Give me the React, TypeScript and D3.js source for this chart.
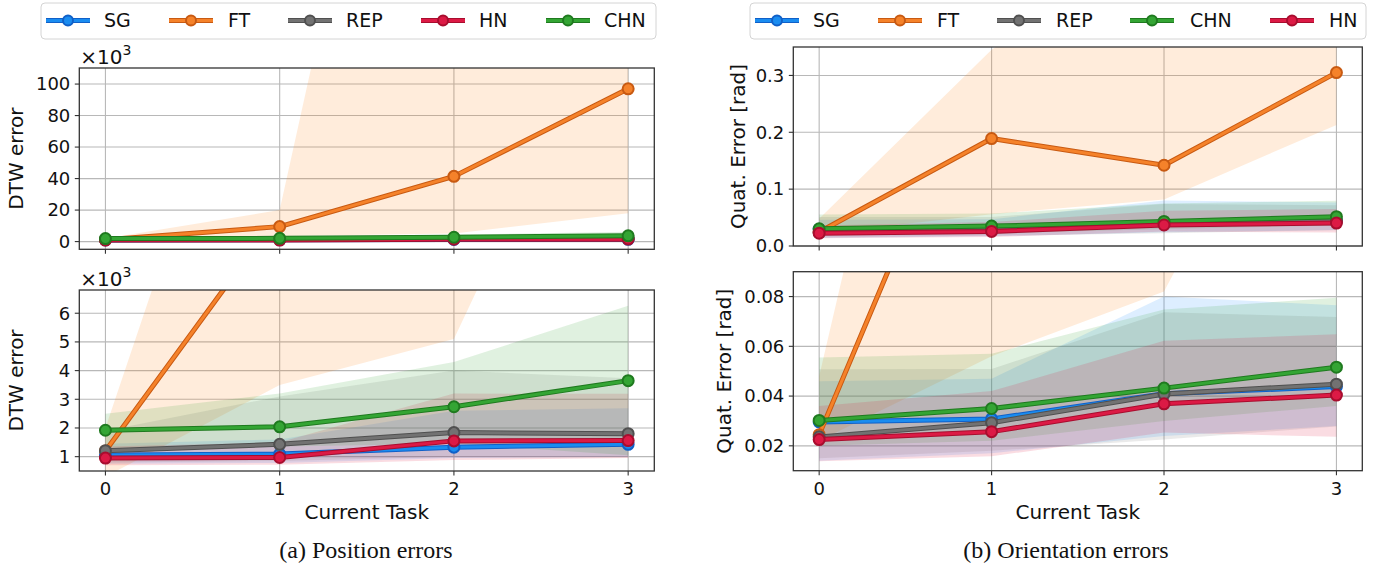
import React from "react";
import * as d3 from "d3";

// ---------- data ----------
const tasks = [0, 1, 2, 3];

const posNames = ["SG", "FT", "REP", "HN", "CHN"];
const oriNames = ["SG", "FT", "REP", "CHN", "HN"];

// position DTW error (x10^3)
const posSG = [1.06, 1.09, 1.33, 1.43];
const posFT = [1.2, 9.5, 41.4, 97.0];
const posREP = [1.21, 1.43, 1.84, 1.8];
const posHN = [0.95, 0.97, 1.55, 1.56];
const posCHN = [1.92, 2.04, 2.74, 3.65];

const posSGHi = [1.45, 1.6, 2.6, 2.69];
const posSGLo = [0.75, 0.78, 0.95, 1.0];
const posFTHi = [2.0, 20, 520, 250];
const posFTLo = [0.3, 3.5, 5.1, 18];
const posREPHi = [1.9, 3.1, 4.0, 3.73];
const posREPLo = [0.8, 0.85, 1.0, 1.0];
const posHNHi = [1.35, 1.5, 3.2, 3.19];
const posHNLo = [0.7, 0.72, 0.88, 0.95];
const posCHNHi = [2.5, 3.2, 4.3, 6.26];
const posCHNLo = [1.3, 1.35, 1.45, 1.05];

// orientation quaternion error [rad]
const oriSG = [0.0296, 0.0308, 0.0409, 0.0438];
const oriFT = [0.0245, 0.189, 0.142, 0.305];
const oriREP = [0.0236, 0.0293, 0.0408, 0.0448];
const oriCHN = [0.0302, 0.035, 0.0432, 0.0516];
const oriHN = [0.0225, 0.0257, 0.0369, 0.0404];

const oriSGHi = [0.046, 0.047, 0.08, 0.0765];
const oriSGLo = [0.014, 0.017, 0.024, 0.028];
const oriFTHi = [0.048, 0.345, 0.55, 0.5];
const oriFTLo = [0.022, 0.056, 0.082, 0.213];
const oriREPHi = [0.0508, 0.0509, 0.0737, 0.0718];
const oriREPLo = [0.015, 0.018, 0.0225, 0.0278];
const oriCHNHi = [0.0555, 0.057, 0.0748, 0.0795];
const oriCHNLo = [0.02, 0.022, 0.03, 0.036];
const oriHNHi = [0.036, 0.042, 0.0622, 0.0649];
const oriHNLo = [0.0138, 0.0158, 0.0254, 0.0236];

const posTopTicks = [0, 20, 40, 60, 80, 100];
const posBotTicks = [1, 2, 3, 4, 5, 6];
const oriTopTicks = [0.0, 0.1, 0.2, 0.3];
const oriBotTicks = [0.02, 0.04, 0.06, 0.08];

// ---------- style ----------
const COLORS: Record<string, { main: string; edge: string; band: string }> = {
  SG: { main: "#1a8cf0", edge: "#1060c8", band: "#1e90ff" },
  FT: { main: "#f5822a", edge: "#c85a12", band: "#ff7f0e" },
  REP: { main: "#727272", edge: "#505050", band: "#707070" },
  HN: { main: "#dc1a45", edge: "#a80d2e", band: "#dc143c" },
  CHN: { main: "#34a534", edge: "#1f7a1f", band: "#2ca02c" },
};

const posData: Record<string, { m: number[]; hi: number[]; lo: number[] }> = {
  SG: { m: posSG, hi: posSGHi, lo: posSGLo },
  FT: { m: posFT, hi: posFTHi, lo: posFTLo },
  REP: { m: posREP, hi: posREPHi, lo: posREPLo },
  HN: { m: posHN, hi: posHNHi, lo: posHNLo },
  CHN: { m: posCHN, hi: posCHNHi, lo: posCHNLo },
};
const oriData: Record<string, { m: number[]; hi: number[]; lo: number[] }> = {
  SG: { m: oriSG, hi: oriSGHi, lo: oriSGLo },
  FT: { m: oriFT, hi: oriFTHi, lo: oriFTLo },
  REP: { m: oriREP, hi: oriREPHi, lo: oriREPLo },
  CHN: { m: oriCHN, hi: oriCHNHi, lo: oriCHNLo },
  HN: { m: oriHN, hi: oriHNHi, lo: oriHNLo },
};

const SANS = "'DejaVu Sans', sans-serif";
const SERIF = "'Liberation Serif', 'DejaVu Serif', serif";

type PanelCfg = {
  id: string;
  left: number;
  right: number;
  top: number;
  bottom: number;
  domain: [number, number];
  ticks: number[];
  fmt: (v: number) => string;
  names: string[];
  data: typeof posData;
  showXLabels: boolean;
  ylabel: string;
  ylabelX: number;
  offsetText: boolean;
};

const panels: PanelCfg[] = [
  {
    id: "pt", left: 79.3, right: 654.3, top: 68, bottom: 249.3,
    domain: [-4.9, 110.2], ticks: posTopTicks, fmt: d3.format("d"),
    names: posNames, data: posData, showXLabels: false,
    ylabel: "DTW error", ylabelX: 23, offsetText: true,
  },
  {
    id: "pb", left: 79.3, right: 654.3, top: 290, bottom: 471,
    domain: [0.5, 6.81], ticks: posBotTicks, fmt: d3.format("d"),
    names: posNames, data: posData, showXLabels: true,
    ylabel: "DTW error", ylabelX: 23, offsetText: true,
  },
  {
    id: "ot", left: 793.3, right: 1362.3, top: 47, bottom: 246,
    domain: [0, 0.35], ticks: oriTopTicks, fmt: d3.format(".1f"),
    names: oriNames, data: oriData, showXLabels: false,
    ylabel: "Quat. Error [rad]", ylabelX: 745, offsetText: false,
  },
  {
    id: "ob", left: 793.3, right: 1362.3, top: 271.7, bottom: 470.7,
    domain: [0.01, 0.09], ticks: oriBotTicks, fmt: d3.format(".2f"),
    names: oriNames, data: oriData, showXLabels: true,
    ylabel: "Quat. Error [rad]", ylabelX: 731, offsetText: false,
  },
];

function Panel({ p }: { p: PanelCfg }) {
  const x = d3.scaleLinear().domain([-0.15, 3.15]).range([p.left, p.right]);
  const y = d3.scaleLinear().domain(p.domain).range([p.bottom, p.top]);
  const line = d3
    .line<number>()
    .x((_, i) => x(tasks[i]))
    .y((d) => y(d));
  const area = (hi: number[], lo: number[]) =>
    d3
      .area<number>()
      .x((_, i) => x(tasks[i]))
      .y0((_, i) => y(lo[i]))
      .y1((_, i) => y(hi[i]))(tasks) || "";
  const clipId = "clip-" + p.id;
  const midY = (p.top + p.bottom) / 2;
  const gridColor = "#b8b8b8";
  return (
    <g>
      <defs>
        <clipPath id={clipId}>
          <rect x={p.left} y={p.top} width={p.right - p.left} height={p.bottom - p.top} />
        </clipPath>
      </defs>
      {tasks.map((t) => (
        <line key={"gx" + t} x1={x(t)} x2={x(t)} y1={p.top} y2={p.bottom} stroke={gridColor} strokeWidth={1.1} />
      ))}
      {p.ticks.map((t) => (
        <line key={"gy" + t} x1={p.left} x2={p.right} y1={y(t)} y2={y(t)} stroke={gridColor} strokeWidth={1.1} />
      ))}
      <g clipPath={`url(#${clipId})`}>
        {p.names.map((n) => (
          <path key={"b" + n} d={area(p.data[n].hi, p.data[n].lo)} fill={COLORS[n].band} fillOpacity={0.15} stroke="none" />
        ))}
        {p.names.map((n) => (
          <g key={"l" + n}>
            <path d={line(p.data[n].m) || ""} fill="none" stroke={COLORS[n].edge} strokeWidth={5} strokeLinejoin="round" />
            <path d={line(p.data[n].m) || ""} fill="none" stroke={COLORS[n].main} strokeWidth={3} strokeLinejoin="round" />
            {p.data[n].m.map((v, i) => (
              <circle key={i} cx={x(tasks[i])} cy={y(v)} r={5.5} fill={COLORS[n].main} stroke={COLORS[n].edge} strokeWidth={2} />
            ))}
          </g>
        ))}
      </g>
      <rect x={p.left} y={p.top} width={p.right - p.left} height={p.bottom - p.top} fill="none" stroke="#333" strokeWidth={1.3} />
      {p.ticks.map((t) => (
        <g key={"yt" + t}>
          <line x1={p.left - 4.5} x2={p.left} y1={y(t)} y2={y(t)} stroke="#333" strokeWidth={1.1} />
          <text x={p.left - 9} y={y(t)} dy="0.35em" textAnchor="end" fontFamily={SANS} fontSize={18} fill="#111">
            {p.fmt(t)}
          </text>
        </g>
      ))}
      {tasks.map((t) => (
        <g key={"xt" + t}>
          <line x1={x(t)} x2={x(t)} y1={p.bottom} y2={p.bottom + 4.5} stroke="#333" strokeWidth={1.1} />
          {p.showXLabels && (
            <text x={x(t)} y={p.bottom + 24} textAnchor="middle" fontFamily={SANS} fontSize={18} fill="#111">
              {t}
            </text>
          )}
        </g>
      ))}
      {p.showXLabels && (
        <text x={(p.left + p.right) / 2} y={p.bottom + 48} textAnchor="middle" fontFamily={SANS} fontSize={20} fill="#111">
          Current Task
        </text>
      )}
      <text
        transform={`translate(${p.ylabelX},${midY}) rotate(-90)`}
        textAnchor="middle"
        fontFamily={SANS}
        fontSize={20}
        fill="#111"
      >
        {p.ylabel}
      </text>
      {p.offsetText && (
        <text x={p.left + 1} y={p.top - 4} fontFamily={SANS} fontSize={20} fill="#111">
          ×10<tspan dy={-9} fontSize={14}>3</tspan>
        </text>
      )}
    </g>
  );
}

type LegendCfg = { x: number; w: number; names: string[]; handles: number[]; texts: number[] };
const legends: LegendCfg[] = [
  { x: 41, w: 615, names: posNames, handles: [46, 169, 288, 421, 546], texts: [104, 228, 346, 479, 604] },
  { x: 750, w: 616, names: oriNames, handles: [755, 878, 997, 1130, 1270], texts: [813, 937, 1056, 1190, 1329] },
];

function Legend({ l }: { l: LegendCfg }) {
  const cy = 20.5;
  return (
    <g>
      <rect x={l.x} y={3} width={l.w} height={36} rx={4} fill="#fff" fillOpacity={0.8} stroke="#d4d4d4" strokeWidth={1} />
      {l.names.map((n, i) => (
        <g key={n}>
          <line x1={l.handles[i]} x2={l.handles[i] + 44} y1={cy} y2={cy} stroke={COLORS[n].edge} strokeWidth={5} />
          <line x1={l.handles[i]} x2={l.handles[i] + 44} y1={cy} y2={cy} stroke={COLORS[n].main} strokeWidth={3} />
          <circle cx={l.handles[i] + 22} cy={cy} r={5} fill={COLORS[n].main} stroke={COLORS[n].edge} strokeWidth={2} />
          <text x={l.texts[i]} y={cy} dy="0.36em" fontFamily={SANS} fontSize={19} fill="#111">
            {n}
          </text>
        </g>
      ))}
    </g>
  );
}

export default function App() {
  return (
    <svg
      width={1379}
      height={577}
      viewBox="0 0 1379 577"
      style={{ position: "absolute", left: 0, top: 0, background: "#fff" }}
    >
      <rect x={0} y={0} width={1379} height={577} fill="#fff" />
      {panels.map((p) => (
        <Panel key={p.id} p={p} />
      ))}
      {legends.map((l, i) => (
        <Legend key={i} l={l} />
      ))}
      <text x={366} y={558} textAnchor="middle" fontFamily={SERIF} fontSize={24} fill="#111">
        (a) Position errors
      </text>
      <text x={1066} y={558} textAnchor="middle" fontFamily={SERIF} fontSize={24} fill="#111">
        (b) Orientation errors
      </text>
    </svg>
  );
}
